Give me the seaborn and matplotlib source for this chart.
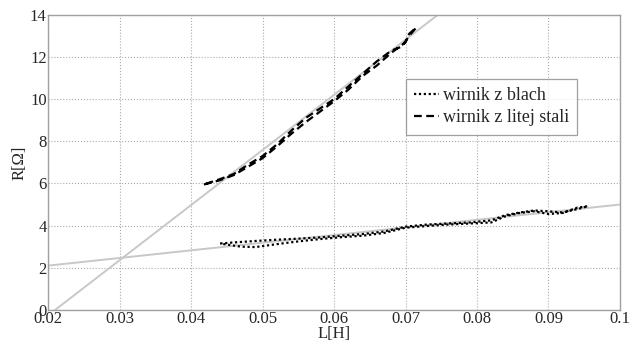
import numpy as np
import pandas as pd
import seaborn as sns
import matplotlib.pyplot as plt

# wirnik z blach: measured loop (forward then back)
L_blach = [0.0441, 0.046, 0.049, 0.052, 0.055, 0.058, 0.061, 0.064, 0.067, 0.070,
           0.073, 0.076, 0.079, 0.082, 0.084, 0.086, 0.088, 0.090, 0.092, 0.094, 0.0955,
           0.094, 0.092, 0.090, 0.088, 0.086, 0.084, 0.082, 0.079, 0.076, 0.073,
           0.070, 0.067, 0.064, 0.061, 0.058, 0.055, 0.052, 0.049, 0.047, 0.045, 0.0441]
R_blach = [3.15, 3.2, 3.27, 3.33, 3.38, 3.44, 3.52, 3.6, 3.72, 3.95,
           4.05, 4.1, 4.15, 4.25, 4.5, 4.62, 4.72, 4.68, 4.62, 4.78, 4.92,
           4.85, 4.6, 4.55, 4.68, 4.6, 4.45, 4.15, 4.1, 4.05, 3.98,
           3.9, 3.65, 3.52, 3.45, 3.36, 3.25, 3.12, 2.98, 3.0, 3.1, 3.15]

# wirnik z litej stali
L_stal = [0.0418, 0.044, 0.046, 0.048, 0.050, 0.052, 0.054, 0.056, 0.058, 0.060,
          0.062, 0.064, 0.066, 0.068, 0.069, 0.070, 0.0705, 0.0715,
          0.0705, 0.0695, 0.068, 0.066, 0.064, 0.062, 0.060, 0.058, 0.056,
          0.054, 0.052, 0.050, 0.048, 0.046, 0.044, 0.0418]
R_stal = [5.95, 6.15, 6.4, 6.8, 7.2, 7.75, 8.35, 8.9, 9.4, 9.9,
          10.45, 11.1, 11.6, 12.2, 12.45, 12.7, 13.1, 13.4,
          13.0, 12.5, 12.3, 11.8, 11.2, 10.6, 10.0, 9.55, 9.1,
          8.5, 7.85, 7.3, 6.9, 6.45, 6.2, 5.95]

# fitted straight lines (end points)
fit_blach_L = [0.02, 0.1]
fit_blach_R = [2.1, 5.0]
fit_stal_L = [0.021, 0.0745]
fit_stal_R = [0.0, 14.0]

sns.set_style('white')
plt.rcParams['font.family'] = ['Liberation Serif', 'DejaVu Serif']

fig = plt.figure(figsize=(6.32, 3.47), dpi=100)
ax = fig.add_axes([0.076, 0.107, 0.905, 0.85])

grey = '#c8c8c8'
sns.lineplot(x=fit_blach_L, y=fit_blach_R, ax=ax, color=grey, linewidth=1.4)
sns.lineplot(x=fit_stal_L, y=fit_stal_R, ax=ax, color=grey, linewidth=1.4)

sns.lineplot(x=L_blach, y=R_blach, ax=ax, sort=False, estimator=None, color='black',
             linestyle=(0, (1, 1.2)), linewidth=1.6, label='wirnik z blach')
sns.lineplot(x=L_stal, y=R_stal, ax=ax, sort=False, estimator=None, color='black',
             linestyle=(0, (3.5, 2)), linewidth=1.6, label='wirnik z litej stali')

ax.set_xlim(0.02, 0.1)
ax.set_ylim(0, 14)
ax.set_xticks(np.arange(0.02, 0.1001, 0.01))
ax.set_xticklabels(['0.02', '0.03', '0.04', '0.05', '0.06', '0.07', '0.08', '0.09', '0.1'])
ax.set_yticks(range(0, 15, 2))
ax.grid(True, linestyle=':', color='#aaaaaa', linewidth=0.8)
ax.tick_params(direction='in', length=3, color='#888888', labelsize=12, pad=1)
for s in ax.spines.values():
    s.set_color('#a0a0a0')
    s.set_linewidth(1.0)

ax.set_xlabel('L[H]', fontsize=12, labelpad=-1)
ax.set_ylabel('R[Ω]', fontsize=12, labelpad=2)

leg = ax.legend(loc='upper right', bbox_to_anchor=(0.925, 0.783), fontsize=13,
                frameon=True, fancybox=False, handlelength=1.4, handletextpad=0.2,
                borderpad=0.45, labelspacing=0.3, borderaxespad=0)
leg.get_frame().set_edgecolor('#888888')
leg.get_frame().set_linewidth(0.9)

fig.savefig('out.png', dpi=100)
